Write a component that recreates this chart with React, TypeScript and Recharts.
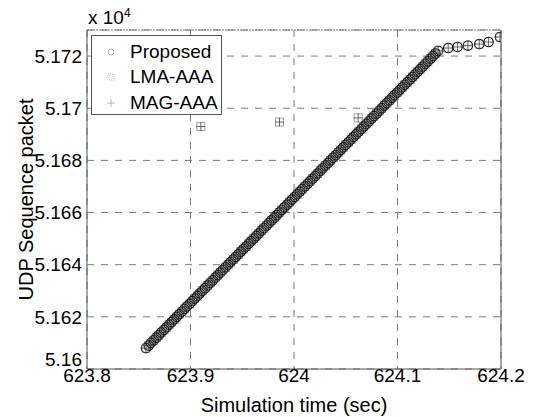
import {
  ScatterChart,
  Scatter,
  XAxis,
  YAxis,
  CartesianGrid,
  ReferenceLine,
  Label,
} from 'recharts';

// simulation time (sec) of each received packet on the main ramp
const rampTimes = [
  623.857, 623.8596, 623.8618, 623.8645, 623.8669, 623.8694, 623.8717, 623.8744, 623.8768, 623.8793,
  623.8818, 623.8841, 623.8867, 623.8891, 623.8917, 623.8941, 623.8965, 623.8992, 623.9016, 623.904,
  623.9066, 623.909, 623.9114, 623.9141, 623.9165, 623.9189, 623.9215, 623.9239, 623.9264, 623.9288,
  623.9313, 623.9339, 623.9363, 623.9387, 623.9413, 623.9437, 623.9462, 623.9486, 623.9511, 623.9537,
  623.9561, 623.9585, 623.9611, 623.9635, 623.966, 623.9684, 623.9709, 623.9735, 623.9759, 623.9783,
  623.9809, 623.9833, 623.9858, 623.9882, 623.9907, 623.9933, 623.9957, 623.9981, 624.0007, 624.0031,
  624.0056, 624.008, 624.0105, 624.0131, 624.0155, 624.0179, 624.0205, 624.0229, 624.0254, 624.0278,
  624.0303, 624.0329, 624.0353, 624.0377, 624.0403, 624.0427, 624.0452, 624.0476, 624.0501, 624.0527,
  624.0551, 624.0575, 624.0601, 624.0625, 624.065, 624.0674, 624.0699, 624.0725, 624.0749, 624.0773,
  624.0799, 624.0823, 624.0848, 624.0872, 624.0897, 624.0923, 624.0947, 624.0971, 624.0997, 624.1021,
  624.1046, 624.107, 624.1095, 624.1121, 624.1145, 624.1169, 624.1195, 624.1219, 624.1244, 624.1268,
  624.1293, 624.1319, 624.1343, 624.1367, 624.1393,
];

// UDP sequence number of each packet on the ramp
const rampSeq = [
  51608, 51609, 51610, 51611, 51612, 51613, 51614, 51615, 51616, 51617,
  51618, 51619, 51620, 51621, 51622, 51623, 51624, 51625, 51626, 51627,
  51628, 51629, 51630, 51631, 51632, 51633, 51634, 51635, 51636, 51637,
  51638, 51639, 51640, 51641, 51642, 51643, 51644, 51645, 51646, 51647,
  51648, 51649, 51650, 51651, 51652, 51653, 51654, 51655, 51656, 51657,
  51658, 51659, 51660, 51661, 51662, 51663, 51664, 51665, 51666, 51667,
  51668, 51669, 51670, 51671, 51672, 51673, 51674, 51675, 51676, 51677,
  51678, 51679, 51680, 51681, 51682, 51683, 51684, 51685, 51686, 51687,
  51688, 51689, 51690, 51691, 51692, 51693, 51694, 51695, 51696, 51697,
  51698, 51699, 51700, 51701, 51702, 51703, 51704, 51705, 51706, 51707,
  51708, 51709, 51710, 51711, 51712, 51713, 51714, 51715, 51716, 51717,
  51718, 51719, 51720, 51721, 51722,
];

// slow tail after the ramp
const tailTimes = [624.149, 624.158, 624.168, 624.179, 624.188, 624.199];
const tailSeq = [51723.1, 51723.5, 51724.0, 51724.6, 51725.4, 51727.3];

// stray packets of the AAA schemes
const strayTimes = [623.91, 623.986, 624.062];
const straySeq = [51693, 51694.7, 51696.3];

const xTicks = [623.8, 623.9, 624, 624.1, 624.2];
const yTicks = [51600, 51620, 51640, 51660, 51680, 51700, 51720];

const legendNames = ['Proposed', 'LMA-AAA', 'MAG-AAA'];

const toPoints = (ts: number[], ss: number[]) => ts.map((t, i) => ({ t, seq: ss[i] }));

const proposedData = [...toPoints(rampTimes, rampSeq), ...toPoints(tailTimes, tailSeq)];
const lmaData = [...toPoints(rampTimes, rampSeq), ...toPoints(tailTimes, tailSeq), ...toPoints(strayTimes, straySeq)];
const magData = [...toPoints(rampTimes, rampSeq), ...toPoints(tailTimes, tailSeq), ...toPoints(strayTimes, straySeq)];

const FONT = 'Arial, "Liberation Sans", Helvetica, sans-serif';

const Circle = (props: any) => (
  <circle cx={props.cx} cy={props.cy} r={4.8} fill="none" stroke="#111" strokeWidth={1} />
);
const Square = (props: any) => (
  <rect x={props.cx - 4} y={props.cy - 4} width={8} height={8} fill="none" stroke="#999" strokeWidth={0.9} />
);
const Plus = (props: any) => (
  <path
    d={`M${props.cx - 4.5},${props.cy}H${props.cx + 4.5}M${props.cx},${props.cy - 4.5}V${props.cy + 4.5}`}
    stroke="#555"
    strokeWidth={0.9}
  />
);

const legendIcons = [
  <circle cx={6} cy={6} r={3} fill="none" stroke="#999" strokeWidth={0.8} />,
  <rect x={3} y={3} width={6} height={6} fill="none" stroke="#aaa" strokeWidth={0.8} strokeDasharray="1 1" />,
  <path d="M2,6H10M6,2V10" stroke="#aaa" strokeWidth={0.8} />,
];

const fmtY = (v: number) => String(parseFloat((v / 10000).toFixed(3)));

// y tick; the lowest label is lifted a little, as in the original figure
const YTick = (props: any) => {
  const { x, y, payload } = props;
  const lift = payload.value === yTicks[0] ? -10 : 0;
  return (
    <text x={x} y={y + lift} dy="0.355em" textAnchor="end" fill="#000" fontSize={19} fontFamily={FONT}>
      {fmtY(payload.value)}
    </text>
  );
};

export default function App() {
  return (
    <div style={{ position: 'relative', width: 529, height: 409, fontFamily: FONT }}>
      <ScatterChart width={529} height={409} margin={{ top: 22, right: 36, bottom: 0, left: 0 }}>
        <CartesianGrid stroke="#7a7a7a" strokeDasharray="7 7" strokeWidth={1} />
        <XAxis
          type="number"
          dataKey="t"
          domain={[623.8, 624.2]}
          ticks={xTicks}
          allowDataOverflow
          height={48}
          stroke="#555"
          tickLine={false}
          tickSize={0}
          tickMargin={0}
          tick={{ fill: '#000', fontSize: 19, fontFamily: FONT }}
        >
          <Label value="Simulation time (sec)" position="insideBottom" offset={5} fill="#000" fontSize={20} fontFamily={FONT} />
        </XAxis>
        <YAxis
          type="number"
          dataKey="seq"
          domain={[51600, 51730]}
          ticks={yTicks}
          allowDataOverflow
          width={79}
          stroke="#555"
          tickLine={false}
          tickSize={0}
          tickMargin={5}
          tick={<YTick />}
        >
          <Label
            value="UDP Sequence packet"
            angle={-90}
            position="insideLeft"
            offset={18}
            style={{ textAnchor: 'middle' }}
            fill="#000"
            fontSize={20}
            fontFamily={FONT}
          />
        </YAxis>
        <ReferenceLine y={51730} stroke="#777" strokeDasharray="2 1" />
        <ReferenceLine x={624.2} stroke="#555" />
        <Scatter name="LMA-AAA" data={lmaData} shape={Square} isAnimationActive={false} />
        <Scatter name="MAG-AAA" data={magData} shape={Plus} isAnimationActive={false} />
        <Scatter name="Proposed" data={proposedData} shape={Circle} isAnimationActive={false} />
      </ScatterChart>

      <div style={{ position: 'absolute', left: 80, top: -2, fontSize: 19, color: '#000' }}>
        x 10<sup style={{ fontSize: 12 }}>4</sup>
      </div>

      <div
        style={{
          position: 'absolute',
          left: 83,
          top: 27,
          width: 131,
          height: 80,
          boxSizing: 'border-box',
          border: '1px solid #555',
          background: '#fff',
          padding: '3px 0 0 0',
        }}
      >
        {legendNames.map((name, i) => (
          <div key={name} style={{ display: 'flex', alignItems: 'center', height: 25.5, fontSize: 19 }}>
            <svg width={12} height={12} style={{ marginLeft: 13, marginRight: 13 }}>
              {legendIcons[i]}
            </svg>
            <span>{name}</span>
          </div>
        ))}
      </div>
    </div>
  );
}
